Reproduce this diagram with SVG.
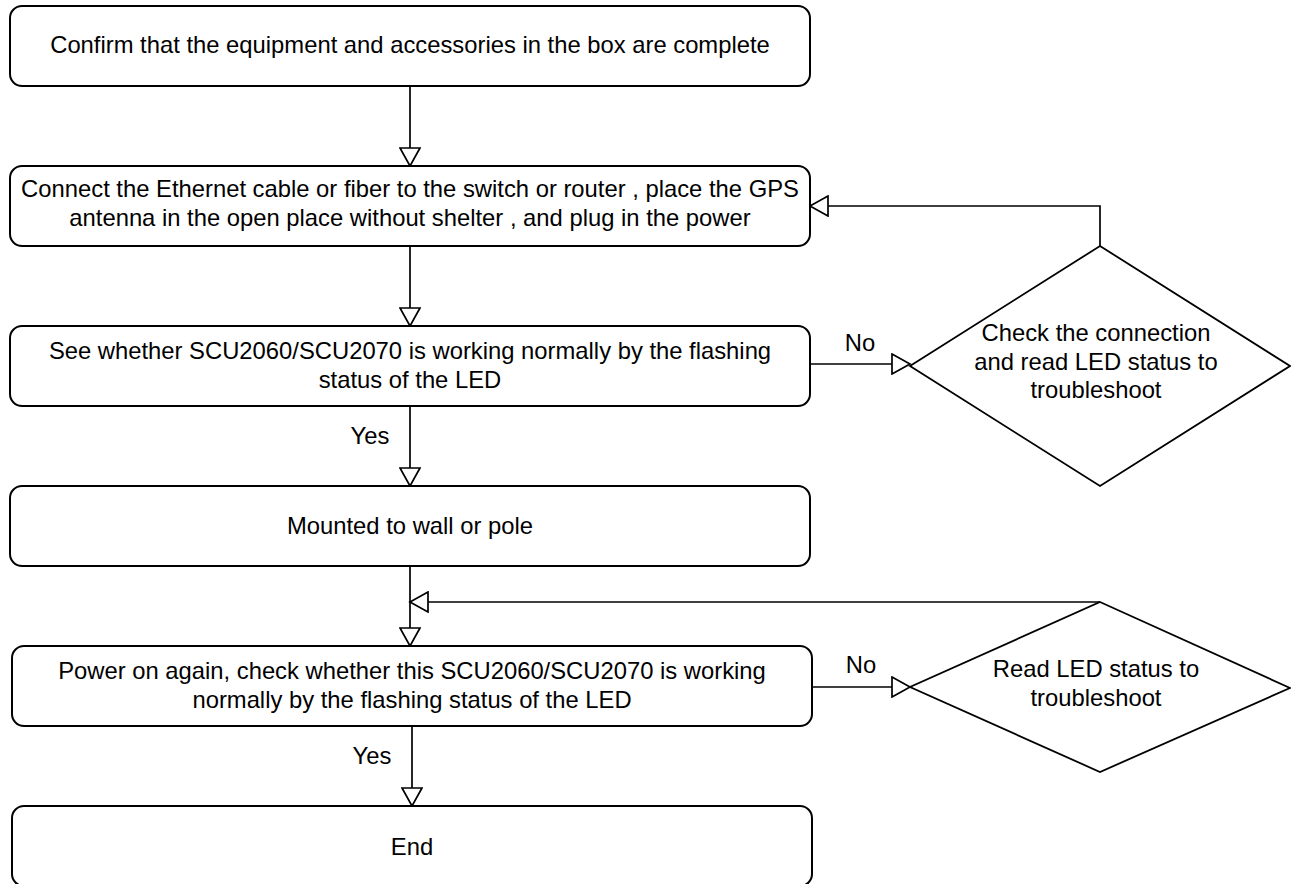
<svg xmlns="http://www.w3.org/2000/svg" width="1291" height="884" viewBox="0 0 1291 884">
<style>
.box{fill:#fff;stroke:#000;stroke-width:2}
.dia{fill:#fff;stroke:#000;stroke-width:1.8}
.t{font-family:"Liberation Sans",Arial,sans-serif;font-size:23.8px;fill:#000;text-anchor:middle}
.c{fill:none;stroke:#000;stroke-width:1.7}
</style>
<defs>
<marker id="arr" markerUnits="userSpaceOnUse" markerWidth="22" markerHeight="22" viewBox="0 0 22 22" refX="20" refY="11" orient="auto">
<path d="M2,1 L20,11 L2,21 Z" fill="#fff" stroke="#000" stroke-width="1.7"/>
</marker>
</defs>
<rect x="0" y="0" width="1291" height="884" fill="#fff"/>
<g id="connectors">
<path class="c" d="M410,86 V166" marker-end="url(#arr)"/>
<path class="c" d="M410,246 V326" marker-end="url(#arr)"/>
<path class="c" d="M410,406 V486" marker-end="url(#arr)"/>
<path class="c" d="M410,566 V646" marker-end="url(#arr)"/>
<path class="c" d="M412,726 V806" marker-end="url(#arr)"/>
<path class="c" d="M810,364 H910" marker-end="url(#arr)"/>
<path class="c" d="M812,687 H910" marker-end="url(#arr)"/>
<path class="c" d="M1100,246 V206 H810" marker-end="url(#arr)"/>
<path class="c" d="M1100,602 H410" marker-end="url(#arr)"/>
<text class="t" x="860" y="351">No</text>
<text class="t" x="861" y="673">No</text>
<text class="t" x="370" y="444">Yes</text>
<text class="t" x="372" y="764">Yes</text>
</g>
<g id="n1">
<rect class="box" x="10" y="6" width="800" height="80" rx="12"/>
<text class="t" x="410" y="53">Confirm that the equipment and accessories in the box are complete</text>
</g>
<g id="n2">
<rect class="box" x="10" y="166" width="800" height="80" rx="12"/>
<text class="t" x="410" y="197">Connect the Ethernet cable or fiber to the switch or router , place the GPS</text>
<text class="t" x="410" y="226">antenna in the open place without shelter , and plug in the power</text>
</g>
<g id="n3">
<rect class="box" x="10" y="326" width="800" height="80" rx="12"/>
<text class="t" x="410" y="359">See whether SCU2060/SCU2070 is working normally by the flashing</text>
<text class="t" x="410" y="388">status of the LED</text>
</g>
<g id="n4">
<rect class="box" x="10" y="486" width="800" height="80" rx="12"/>
<text class="t" x="410" y="534">Mounted to wall or pole</text>
</g>
<g id="n5">
<rect class="box" x="12" y="646" width="800" height="80" rx="12"/>
<text class="t" x="412" y="679">Power on again, check whether this SCU2060/SCU2070 is working</text>
<text class="t" x="412" y="708">normally by the flashing status of the LED</text>
</g>
<g id="n6">
<rect class="box" x="12" y="806" width="800" height="80" rx="12"/>
<text class="t" x="412" y="855">End</text>
</g>
<g id="d1">
<path class="dia" d="M1100,246 L1290,366 L1100,486 L910,366 Z"/>
<text class="t" x="1096" y="341">Check the connection</text>
<text class="t" x="1096" y="370">and read LED status to</text>
<text class="t" x="1096" y="398">troubleshoot</text>
</g>
<g id="d2">
<path class="dia" d="M1100,602 L1290,688 L1100,772 L910,687 Z"/>
<text class="t" x="1096" y="677">Read LED status to</text>
<text class="t" x="1096" y="706">troubleshoot</text>
</g>
</svg>
